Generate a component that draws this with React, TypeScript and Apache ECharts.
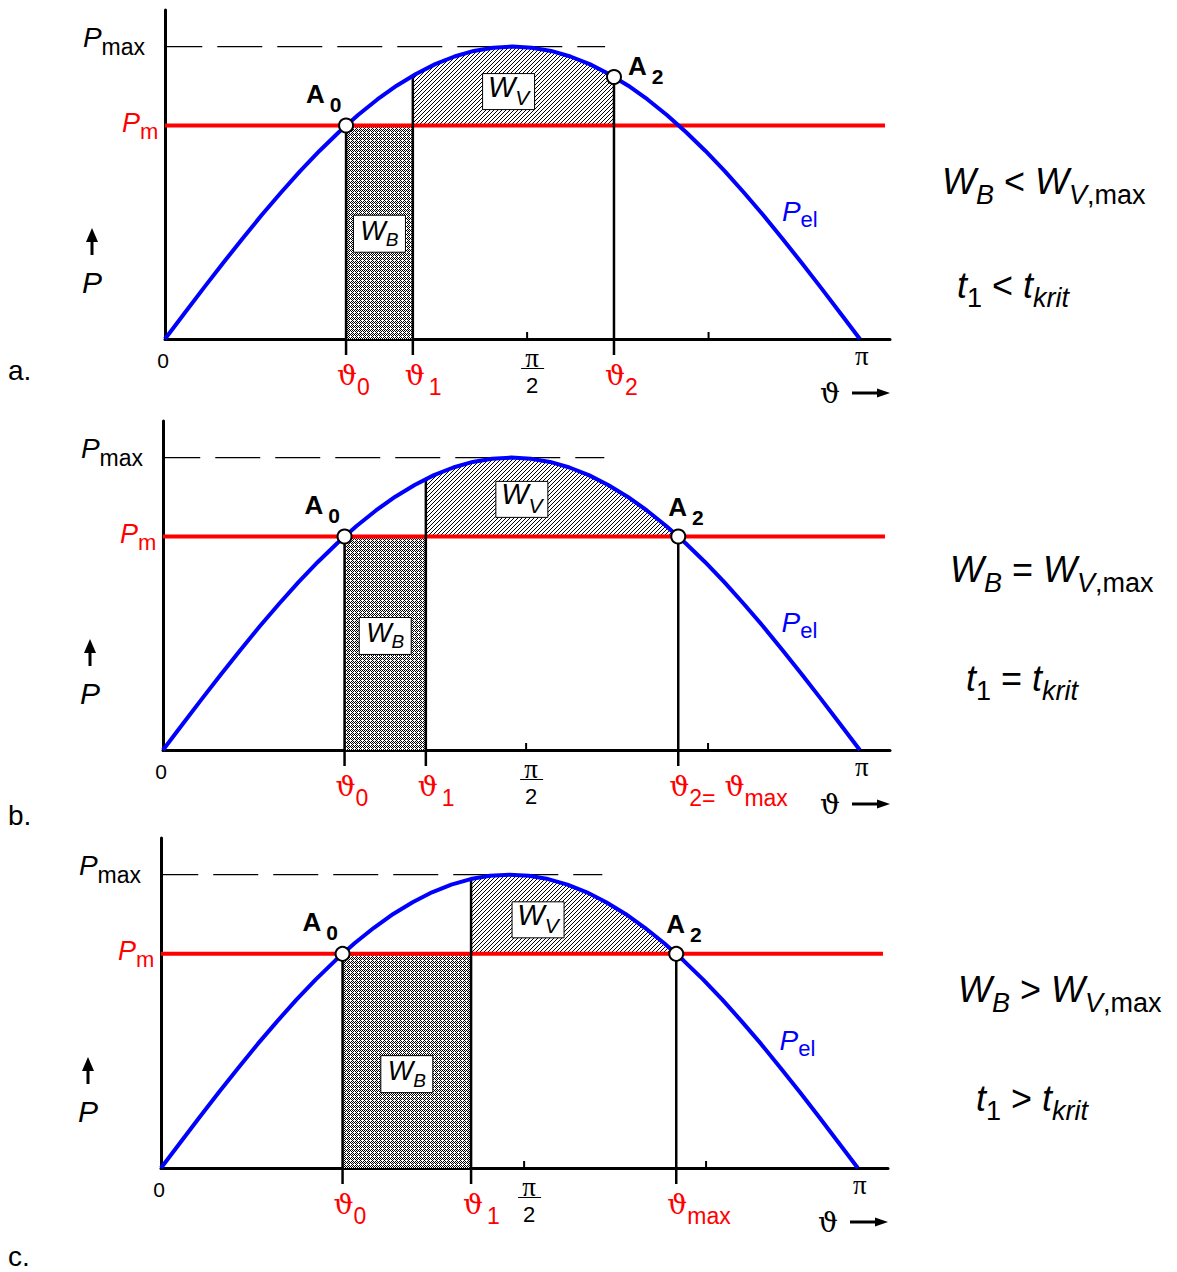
import React, { useEffect, useRef } from 'react';
import * as echarts from 'echarts';

const SANS = "'Liberation Sans', Arial, Helvetica, sans-serif";
const SERIF = "'Liberation Serif', 'Times New Roman', serif";
const GREEK = "'DejaVu Serif', 'Liberation Serif', serif";
const BLUE = '#0000ff';
const RED = '#ff0000';
const BLACK = '#000000';

// Load angle ϑ in degrees (180° corresponds to π)
const loadAngleDeg = [0, 5, 10, 15, 20, 25, 30, 35, 40, 45, 50, 55, 60, 65, 70, 75, 80, 85, 90,
  95, 100, 105, 110, 115, 120, 125, 130, 135, 140, 145, 150, 155, 160, 165, 170, 175, 180];
// Electrical power P_el, related to P_max
const pElValues = [0, 0.087, 0.174, 0.259, 0.342, 0.423, 0.5, 0.574, 0.643, 0.707, 0.766, 0.819,
  0.866, 0.906, 0.94, 0.966, 0.985, 0.996, 1, 0.996, 0.985, 0.966, 0.94, 0.906, 0.866, 0.819,
  0.766, 0.707, 0.643, 0.574, 0.5, 0.423, 0.342, 0.259, 0.174, 0.087, 0];

const pMax = 1;
const pMech = 0.73;

// One entry per case a., b., c.
const panelLetters = ['a.', 'b.', 'c.'];
const theta0Deg = [46.9, 46.9, 46.9];
const theta1Deg = [64.2, 67.9, 80.1];
const pAtTheta1 = [0.9, 0.926, 0.985];
const theta2Deg = [116.3, 133.1, 133.1];
const pAtTheta2 = [0.896, 0.73, 0.73];
const theta2Labels = ['{g|ϑ}{s|2}', '{g|ϑ}{s|2=}{g| ϑ}{s|max}', '{g|ϑ}{s|max}'];
const relationSigns = ['<', '=', '>'];

const halfPiDeg = 93.8;
const piDeg = 180;
const xTickDeg = [93.8, 140.8];
const xAxisMaxDeg = 187.8;
const yAxisMaxP = 1.125;
const pMechLineEndDeg = 186.5;
const pMaxGuideDeg = [-2, 114];

// Layout (pixels / anchor positions in axis units)
const gridLeft = [165, 163, 161];
const gridTop = [10, 421, 838];
const gridWidth = [725, 727, 727];
const gridHeight = [329, 329, 330];
const wbLabelP = [0.36, 0.39, 0.32];
const wvLabelAt = [[89, 0.846], [92.7, 0.857], [97.4, 0.846]];
const pelLabelAt = [159.8, 0.435];
const a2LabelShift = [[14, -11], [-10, -30], [-10, -30]];
const letterY = [370, 815, 1256];
const relationAt = [[942, 181, 957, 285], [950, 569, 966, 678], [958, 989, 976, 1098]];

const tok = (fontSize: number, extra: any = {}) => ({ fontSize, fontFamily: SANS, ...extra });
// subscript token: lowered by `drop` pixels
const low = (fontSize: number, drop: number, extra: any = {}) =>
  tok(fontSize, { padding: [drop * 2, 0, 0, 0], ...extra });

const label = (x: number, y: number, content: string, style: any = {}) => ({
  type: 'text',
  x,
  y,
  silent: true,
  style: {
    text: content,
    fill: BLACK,
    fontFamily: SANS,
    fontSize: 20,
    align: 'left',
    verticalAlign: 'middle',
    ...style,
  },
});

function pixelPattern(size: number, ink: (x: number, y: number) => boolean) {
  const c = document.createElement('canvas');
  c.width = size;
  c.height = size;
  const g = c.getContext('2d')!;
  const img = g.createImageData(size, size);
  for (let y = 0; y < size; y++) {
    for (let x = 0; x < size; x++) {
      const v = ink(x, y) ? 0 : 255;
      const k = (y * size + x) * 4;
      img.data[k] = v;
      img.data[k + 1] = v;
      img.data[k + 2] = v;
      img.data[k + 3] = 255;
    }
  }
  g.putImageData(img, 0, 0);
  return { image: c.toDataURL(), repeat: 'repeat', imageWidth: size, imageHeight: size };
}

function buildOption() {
  const diagonalHatch = pixelPattern(4, (x, y) => (x + y) % 4 === 3);
  const crossHatch = pixelPattern(4, (x, y) =>
    (x + y) % 4 === 0 || (x - y + 4) % 4 === 0 || (x === 0 && y === 2));
  const curve = loadAngleDeg.map((d, k) => [d, pElValues[k]]);

  const grid = panelLetters.map((_, i) => ({
    left: gridLeft[i],
    top: gridTop[i],
    width: gridWidth[i],
    height: gridHeight[i],
  }));
  const axisLine = { show: true, onZero: false, lineStyle: { color: BLACK, width: 3 } };
  const xAxis = panelLetters.map((_, i) => ({
    type: 'value', gridIndex: i, min: 0, max: xAxisMaxDeg,
    axisLine, axisTick: { show: false }, axisLabel: { show: false }, splitLine: { show: false },
  }));
  const yAxis = panelLetters.map((_, i) => ({
    type: 'value', gridIndex: i, min: 0, max: yAxisMaxP,
    axisLine, axisTick: { show: false }, axisLabel: { show: false }, splitLine: { show: false },
  }));

  const series: any[] = [];
  panelLetters.forEach((_, i) => {
    const t0 = theta0Deg[i];
    const t1 = theta1Deg[i];
    const p1 = pAtTheta1[i];
    const t2 = theta2Deg[i];
    const p2 = pAtTheta2[i];
    const axes = { xAxisIndex: i, yAxisIndex: i, silent: true };

    // accelerating area W_B (cross hatched)
    series.push({
      type: 'custom', ...axes, z: 1,
      data: [[t0, t1, pMech]],
      renderItem: (params: any, api: any) => {
        const a = api.coord([api.value(0), 0]);
        const b = api.coord([api.value(1), api.value(2)]);
        return {
          type: 'rect',
          shape: { x: a[0], y: b[1], width: b[0] - a[0], height: a[1] - b[1] },
          style: { fill: crossHatch },
        };
      },
    });

    // decelerating area W_V (diagonal hatch) between P_m and P_el
    const wvRegion = [[t1, pMech], [t1, p1],
      ...curve.filter(([d]) => d > t1 && d < t2), [t2, p2], [t2, pMech]];
    series.push({
      type: 'custom', ...axes, z: 1,
      data: [[t1, t2]],
      renderItem: (params: any, api: any) => ({
        type: 'polygon',
        shape: { points: wvRegion.map((p) => api.coord(p)) },
        style: { fill: diagonalHatch },
      }),
    });

    // P_max guide
    series.push({
      type: 'line', ...axes, z: 2, clip: false, showSymbol: false,
      data: [[pMaxGuideDeg[0], pMax], [pMaxGuideDeg[1], pMax]],
      lineStyle: { color: BLACK, width: 1.2, type: [45, 15] },
    });

    // mechanical power P_m
    series.push({
      type: 'line', ...axes, z: 3, clip: false, showSymbol: false,
      data: [[0, pMech], [pMechLineEndDeg, pMech]],
      lineStyle: { color: RED, width: 4 },
    });

    // angle markers ϑ0, ϑ1, ϑ2
    series.push({
      type: 'custom', ...axes, z: 4,
      data: [[t0, pMech], [t1, p1], [t2, p2]],
      renderItem: (params: any, api: any) => {
        const top = api.coord([api.value(0), api.value(1)]);
        const base = api.coord([api.value(0), 0]);
        return {
          type: 'line',
          shape: { x1: top[0], y1: top[1], x2: base[0], y2: base[1] + 16 },
          style: { stroke: BLACK, lineWidth: 2.5 },
        };
      },
    });

    // small ticks on the ϑ axis
    series.push({
      type: 'custom', ...axes, z: 4,
      data: xTickDeg.map((d) => [d, 0]),
      renderItem: (params: any, api: any) => {
        const p = api.coord([api.value(0), 0]);
        return {
          type: 'line',
          shape: { x1: p[0], y1: p[1], x2: p[0], y2: p[1] - 7 },
          style: { stroke: BLACK, lineWidth: 2 },
        };
      },
    });

    // electrical power P_el
    series.push({
      type: 'line', ...axes, z: 5, showSymbol: false,
      data: curve,
      lineStyle: { color: BLUE, width: 4 },
    });

    // operating points A0 and A2
    series.push({
      type: 'scatter', ...axes, z: 7,
      data: [[t0, pMech], [t2, p2]],
      symbol: 'circle', symbolSize: 14,
      itemStyle: { color: '#ffffff', borderColor: BLACK, borderWidth: 2, opacity: 1 },
    });

    // texts tied to the axes
    series.push({
      type: 'custom', ...axes, z: 6,
      data: [[0, 0]],
      renderItem: (params: any, api: any) => {
        const [ox, oy] = api.coord([0, 0]);
        const yPmax = api.coord([0, pMax])[1];
        const yPm = api.coord([0, pMech])[1];
        const xEnd = api.coord([xAxisMaxDeg, 0])[0];
        const xPi = api.coord([piDeg, 0])[0];
        const xHalf = api.coord([halfPiDeg, 0])[0];
        const [a0x, a0y] = api.coord([t0, pMech]);
        const [a2x, a2y] = api.coord([t2, p2]);
        const ch: any[] = [];

        ch.push(label(ox - 20, yPmax - 9, '{P|P}{s|max}', {
          align: 'right',
          rich: { P: tok(28, { fontStyle: 'italic' }), s: low(23, 9) },
        }));
        ch.push(label(ox - 43, yPm - 3, '{P|P}{s|m}', {
          fill: RED,
          rich: { P: tok(27, { fontStyle: 'italic' }), s: low(22, 9) },
        }));

        // ↑ P
        const ax = ox - 73;
        const top = oy - 111;
        ch.push({ type: 'polygon', shape: { points: [[ax, top], [ax - 6, top + 14], [ax + 6, top + 14]] }, style: { fill: BLACK } });
        ch.push({ type: 'line', shape: { x1: ax, y1: top + 12, x2: ax, y2: oy - 84 }, style: { stroke: BLACK, lineWidth: 3 } });
        ch.push(label(ox - 83, oy - 57, 'P', { fontSize: 30, fontStyle: 'italic' }));

        // ϑ axis labels
        ch.push(label(ox - 2, oy + 21, '0', { fontSize: 21, align: 'center' }));
        ch.push(label(xPi + 2, oy + 17, 'π', { fontFamily: SERIF, fontSize: 27, align: 'center' }));
        ch.push(label(xHalf + 5, oy + 19, 'π', { fontFamily: SERIF, fontSize: 27, align: 'center' }));
        ch.push({ type: 'line', shape: { x1: xHalf - 6, y1: oy + 29.5, x2: xHalf + 17, y2: oy + 29.5 }, style: { stroke: BLACK, lineWidth: 1 } });
        ch.push(label(xHalf + 5, oy + 46, '2', { fontSize: 22, align: 'center' }));

        // ϑ →
        const ay = oy + 54;
        ch.push(label(xEnd - 60, ay, 'ϑ', { fontFamily: GREEK, fontSize: 28, align: 'center' }));
        ch.push({ type: 'line', shape: { x1: xEnd - 38, y1: ay, x2: xEnd - 10, y2: ay }, style: { stroke: BLACK, lineWidth: 3 } });
        ch.push({ type: 'polygon', shape: { points: [[xEnd, ay], [xEnd - 13, ay - 4.5], [xEnd - 13, ay + 4.5]] }, style: { fill: BLACK } });

        // red angle labels
        const angleRich = {
          g: { fontFamily: GREEK, fontSize: 28 },
          s: low(23, 12),
          s1: low(23, 12, { padding: [24, 0, 0, 4] }),
        };
        ch.push(label(api.coord([t0, 0])[0] - 9, oy + 36, '{g|ϑ}{s|0}', { fill: RED, rich: angleRich }));
        ch.push(label(api.coord([t1, 0])[0] - 8, oy + 36, '{g|ϑ}{s1|1}', { fill: RED, rich: angleRich }));
        ch.push(label(api.coord([t2, 0])[0] - 9, oy + 36, theta2Labels[i], { fill: RED, rich: angleRich }));

        // operating point names
        const aRich = {
          A: tok(26, { fontWeight: 'bold' }),
          s: low(21, 11, { fontWeight: 'bold', padding: [22, 0, 0, 5] }),
        };
        ch.push(label(a0x - 40, a0y - 32, '{A|A}{s|0}', { rich: aRich }));
        ch.push(label(a2x + a2LabelShift[i][0], a2y + a2LabelShift[i][1], '{A|A}{s|2}', { rich: aRich }));

        // P_el
        const [px, py] = api.coord(pelLabelAt);
        ch.push(label(px, py, '{P|P}{s|el}', {
          fill: BLUE,
          rich: { P: tok(28, { fontStyle: 'italic' }), s: low(22, 8) },
        }));

        // W_B box
        const [bx, by] = api.coord([(t0 + t1) / 2, wbLabelP[i]]);
        ch.push({ type: 'rect', shape: { x: bx - 26, y: by - 18.5, width: 52, height: 37 }, style: { fill: '#ffffff', stroke: BLACK, lineWidth: 1 } });
        ch.push(label(bx, by - 3, '{W|W}{s|B}', {
          align: 'center',
          rich: { W: tok(27, { fontStyle: 'italic' }), s: low(19, 9, { fontStyle: 'italic' }) },
        }));

        // W_V box
        const [vx, vy] = api.coord(wvLabelAt[i]);
        ch.push({ type: 'rect', shape: { x: vx - 26, y: vy - 18, width: 52, height: 36 }, style: { fill: '#ffffff', stroke: BLACK, lineWidth: 1 } });
        ch.push(label(vx, vy - 5, '{W|W}{s|V}', {
          align: 'center',
          rich: { W: tok(29, { fontStyle: 'italic' }), s: low(21, 11, { fontStyle: 'italic' }) },
        }));

        return { type: 'group', children: ch };
      },
    });
  });

  const relRich = {
    W: tok(36, { fontStyle: 'italic' }),
    b: low(27, 14, { fontStyle: 'italic' }),
    r: low(27, 14),
    op: tok(36),
    t: tok(36, { fontStyle: 'italic' }),
    n: low(27, 13),
    k: low(27, 13, { fontStyle: 'italic' }),
  };

  const graphic = [
    ...panelLetters.map((t, i) => label(8, letterY[i], t, { fontSize: 28 })),
    ...relationSigns.flatMap((sgn, i) => [
      label(relationAt[i][0], relationAt[i][1], `{W|W}{b|B}{op| ${sgn} }{W|W}{b|V}{r|,max}`, { rich: relRich }),
      label(relationAt[i][2], relationAt[i][3], `{t|t}{n|1}{op| ${sgn} }{t|t}{k|krit}`, { rich: relRich }),
    ]),
  ];

  return {
    animation: false,
    backgroundColor: '#ffffff',
    grid,
    xAxis,
    yAxis,
    series,
    graphic,
  };
}

export default function App() {
  const ref = useRef<HTMLDivElement>(null);
  useEffect(() => {
    document.body.style.margin = '0';
    if (!ref.current) return;
    const chart = echarts.init(ref.current, null, { renderer: 'svg' });
    chart.setOption(buildOption() as any);
    return () => chart.dispose();
  }, []);
  return <div ref={ref} style={{ width: 1177, height: 1272 }} />;
}
